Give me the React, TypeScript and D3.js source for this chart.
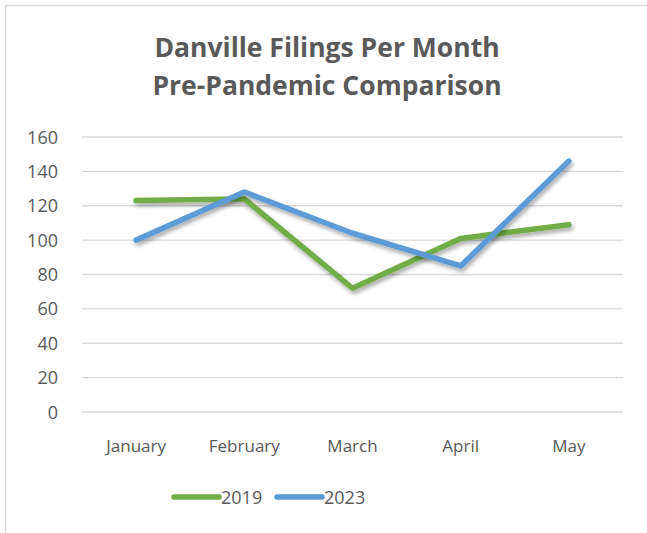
import React from "react";
import * as d3 from "d3";

const categories = ["January", "February", "March", "April", "May"];
const series2019 = [123, 124, 72, 101, 109];
const series2023 = [100, 128, 104, 85, 146];
const yTicks = [0, 20, 40, 60, 80, 100, 120, 140, 160];
const seriesNames = ["2019", "2023"];
const colors = ["#70AD47", "#5B9BD5"];
const titleLines = ["Danville Filings Per Month", "Pre-Pandemic Comparison"];

export default function App() {
  const W = 647, H = 533;
  const left = 82, right = 623, top = 137, bottom = 412;
  const x = d3.scaleBand<string>().domain(categories).range([left, right]);
  const y = d3.scaleLinear().domain([0, 160]).range([bottom, top]);
  const line = d3.line<number>()
    .x((_, i) => (x(categories[i]) as number) + x.bandwidth() / 2)
    .y((d) => y(d));
  const font = "'Open Sans', 'Liberation Sans', sans-serif";
  const data = [series2019, series2023];
  return (
    <svg width={W} height={H} style={{ position: "absolute", left: 0, top: 0 }}>
      <defs>
        <filter id="sh" x="-10%" y="-10%" width="120%" height="130%">
          <feDropShadow dx="1.5" dy="3" stdDeviation="2" floodColor="#000" floodOpacity="0.35" />
        </filter>
      </defs>
      <rect x={0} y={0} width={W} height={H} fill="#fff" />
      <rect x={5.5} y={5.5} width={W + 10} height={H + 10} fill="none" stroke="#d9d9d9" strokeWidth={1.5} />
      {titleLines.map((t, i) => (
        <text key={t} x={327} y={57 + i * 38} textAnchor="middle" fontFamily={font}
          fontWeight="bold" fontSize={26.5} fill="#595959">{t}</text>
      ))}
      {yTicks.map((t) => (
        <g key={t}>
          <line x1={left} x2={right} y1={y(t)} y2={y(t)} stroke="#d9d9d9" strokeWidth={1.3} />
          <text x={58} y={y(t) + 6.5} textAnchor="end" fontFamily={font} fontSize={18} fill="#595959">{t}</text>
        </g>
      ))}
      {categories.map((c) => (
        <text key={c} x={(x(c) as number) + x.bandwidth() / 2} y={452} textAnchor="middle"
          fontFamily={font} fontSize={17} fill="#595959">{c}</text>
      ))}
      {data.map((s, i) => (
        <path key={i} d={line(s) as string} fill="none" stroke={colors[i]} strokeWidth={5.5}
          strokeLinecap="round" strokeLinejoin="round" filter="url(#sh)" />
      ))}
      {seriesNames.map((n, i) => {
        const x0 = 174 + i * 103;
        return (
          <g key={n}>
            <line x1={x0} x2={x0 + 45} y1={497} y2={497} stroke={colors[i]} strokeWidth={5.5} strokeLinecap="round" />
            <text x={x0 + 47} y={503.5} fontFamily={font} fontSize={18} fill="#595959">{n}</text>
          </g>
        );
      })}
    </svg>
  );
}
